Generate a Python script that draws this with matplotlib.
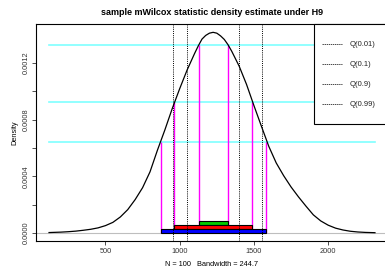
import numpy as np
import matplotlib
matplotlib.use("Agg")
import matplotlib.pyplot as plt
from matplotlib.patches import Rectangle

plt.rcParams['font.family'] = ['Liberation Sans', 'DejaVu Sans']

# density curve
dens_x = [120, 200, 250, 300, 350, 400, 450, 500, 550, 600, 650, 700, 750, 800,
          850, 900, 950, 1000, 1050, 1100, 1125, 1150, 1175, 1200, 1225, 1250,
          1275, 1300, 1325, 1350, 1400, 1450, 1500, 1550, 1600, 1650, 1700,
          1750, 1800, 1850, 1900, 1950, 2000, 2050, 2100, 2150, 2200, 2250, 2315]
dens_y = [0.000003, 0.000006, 0.000009, 0.000013, 0.000019, 0.000026, 0.000036,
          0.000052, 0.000075, 0.000113, 0.000165, 0.000236, 0.00032, 0.000432,
          0.000585, 0.000728, 0.00088, 0.00102, 0.001152, 0.001268, 0.001322,
          0.00137, 0.001396, 0.001412, 0.001418, 0.001412, 0.001393, 0.001368,
          0.001331, 0.001285, 0.00118, 0.00105, 0.0009, 0.000755, 0.000612,
          0.000495, 0.000405, 0.000325, 0.000255, 0.00019, 0.000128, 0.000085,
          0.000055, 0.000034, 0.000021, 0.000012, 0.000007, 0.000004, 0.000002]

# density levels (cyan) and the interval limits where they cut the curve
levels = [0.00133, 0.000929, 0.000646]
lo = [1128, 962, 873]
hi = [1327, 1489, 1581]
bar_cols = ['#00cc00', 'red', 'blue']
bar_bottom = [0.0000582, 0.0000303, 0.0]
bar_top = [0.0000847, 0.0000582, 0.0000303]

# quantiles
q_names = ['Q(0.01)', 'Q(0.1)', 'Q(0.9)', 'Q(0.99)']
q_vals = [958, 1052, 1396, 1557]

fig = plt.figure(figsize=(3.85, 2.75), dpi=100)
ax = fig.add_axes([36 / 385, 1 - 241 / 275, 352 / 385, (241 - 24.3) / 275])

xmin, xmax = min(dens_x), max(dens_x)
pad = 0.04 * (xmax - xmin)
ax.set_xlim(xmin - pad, xmax + pad)
ymax = max(dens_y)
ax.set_ylim(-0.04 * ymax, 1.04 * ymax)

ax.axhline(0, color='#bebebe', lw=0.8, zorder=1)
for lv in levels:
    ax.plot([xmin, xmax], [lv, lv], color='#7fffff', lw=1.2, zorder=1)

for i in range(len(levels)):
    ax.vlines([lo[i], hi[i]], 0, levels[i], color='magenta', lw=1.0, zorder=2)
    ax.add_patch(Rectangle((lo[i], bar_bottom[i]), hi[i] - lo[i],
                           bar_top[i] - bar_bottom[i], facecolor=bar_cols[i],
                           edgecolor='black', lw=0.8, zorder=3))

for q in q_vals:
    ax.axvline(q, color='black', lw=0.7, ls=(0, (1, 1.2)), zorder=4)

ax.plot(dens_x, dens_y, color='black', lw=0.9, zorder=5)

ax.set_xticks([500, 1000, 1500, 2000])
ax.set_yticks(np.arange(0, 0.0013, 0.0002))
ax.set_yticklabels(['0.0000', '', '0.0004', '', '0.0008', '', '0.0012'],
                   rotation=90, va='center')
ax.tick_params(labelsize=5.3, length=3, width=0.6, pad=2, colors='#333333')
ax.tick_params(axis='y', pad=1.5)
for s in ax.spines.values():
    s.set_linewidth(0.8)

ax.set_title('sample mWilcox statistic density estimate under H9',
             fontsize=6.5, fontweight='bold', pad=7)
ax.set_xlabel('N = 100   Bandwidth = 244.7', fontsize=5.3, labelpad=4)
ax.set_ylabel('Density', fontsize=5.3, labelpad=3)

# legend box at top right, drawn in pixel-based figure coordinates
leg = Rectangle((313.7 / 385, 1 - 124 / 275), 80 / 385, (124 - 24.3) / 275,
                transform=fig.transFigure, facecolor='white', edgecolor='black',
                lw=0.8, zorder=10)
fig.patches.append(leg)
for i, name in enumerate(q_names):
    yy = 1 - (44.3 + 20 * i) / 275
    fig.lines.append(plt.Line2D([321.7 / 385, 341.7 / 385], [yy, yy],
                                transform=fig.transFigure, color='black',
                                lw=0.5, ls=(0, (2, 1)), zorder=11))
    fig.text(350 / 385, yy, name, fontsize=5.5, va='center', ha='left',
             color='#222222', zorder=11)

fig.savefig('out.png', dpi=100)
